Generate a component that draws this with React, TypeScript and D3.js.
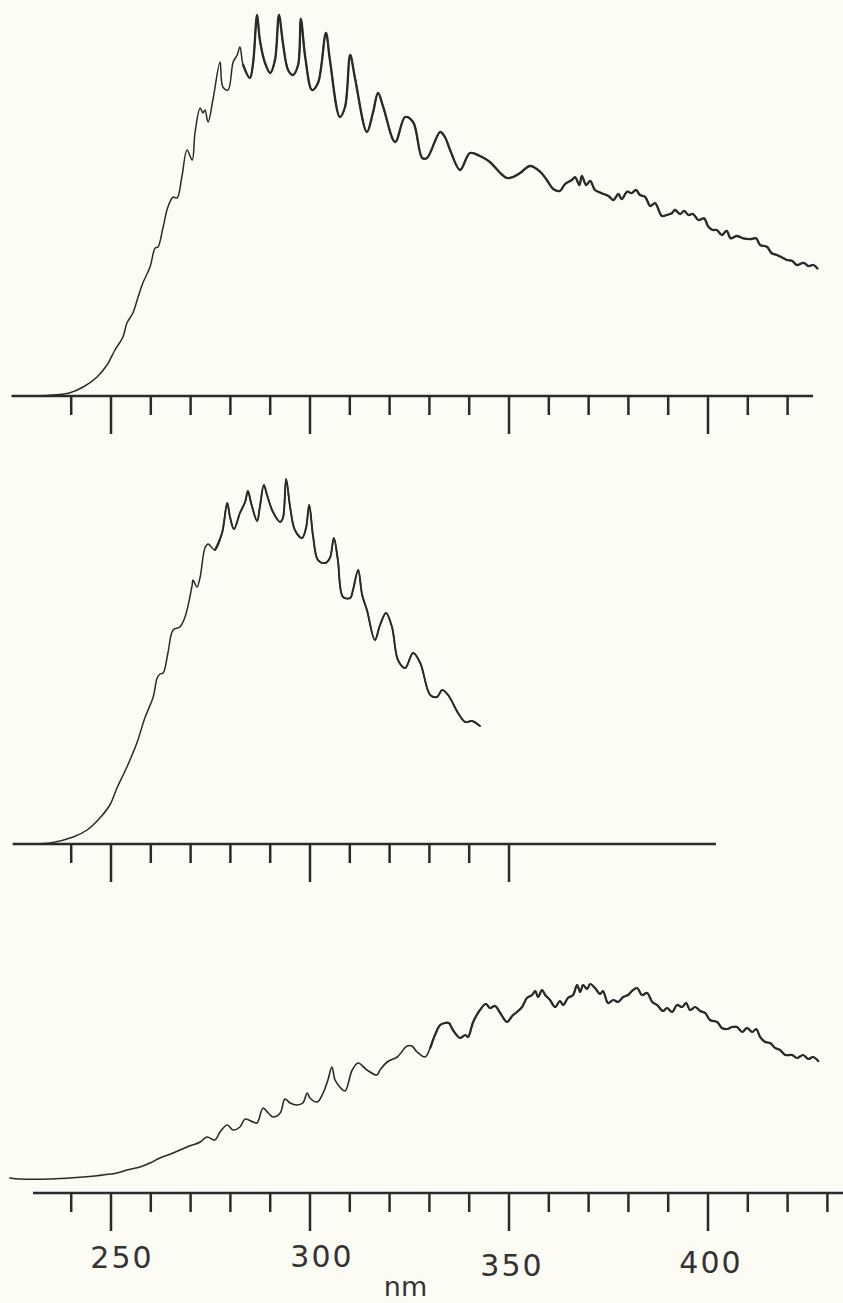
import React from 'react';
import * as d3 from 'd3';

const WIDTH = 843;
const HEIGHT = 1303;

// ---- Data (wavelength in nm, relative intensity) ----
// Top spectrum
const topNm = [
  225.1, 230.4, 236.4, 239.7, 243.0, 246.5, 249.0, 251.0, 253.0, 254.0,
  255.5, 256.8, 258.0, 259.8, 261.1, 261.8, 263.1, 264.3, 265.6, 266.6,
  267.8, 269.1, 270.4, 271.1, 272.4, 273.1, 273.6, 274.4, 275.6, 277.4,
  278.1, 279.4, 280.7, 281.7, 282.4, 283.2, 284.9, 285.7, 286.7, 287.4,
  288.7, 290.0, 291.2, 292.2, 293.2, 294.5, 295.7, 297.0, 297.7, 298.8,
  300.5, 302.0, 304.0, 305.0, 307.5, 308.8, 310.1, 311.3, 314.3, 315.8,
  317.1, 318.4, 321.4, 323.9, 325.9, 328.2, 329.4, 332.7, 333.9, 335.2,
  337.7, 340.2, 342.7, 345.2, 347.8, 349.5, 351.0, 352.8, 355.3,
  357.8, 359.5, 361.2, 362.8, 364.1, 365.8, 366.6, 367.7, 368.3, 369.4,
  370.4, 371.6, 373.3, 375.0, 376.2, 377.5, 378.3, 379.7, 380.8, 381.9,
  382.9, 384.2, 385.5, 386.7, 388.4, 389.6, 390.9, 391.7, 393.0, 394.0,
  395.1, 396.2, 397.6, 399.0, 400.1, 401.2, 402.2, 403.5, 404.7, 405.7,
  407.2, 408.9, 410.6, 412.1, 413.1, 414.8, 416.0, 417.3, 418.5, 419.8,
  421.1, 422.3, 424.0, 425.2, 426.5, 427.5,
];
const topIntensity = [
  0, 0, 0.3, 0.8, 2.25, 4.75, 7.75, 11.5, 14.75, 18.25,
  20.75, 24.75, 28.25, 32.25, 37, 37.25, 42.25, 47.25, 49.75, 49.5,
  54.75, 61.5, 59, 65.75, 72, 70.75, 71.5, 68.5, 74, 83.5,
  77.25, 76.5, 83.5, 85.25, 87.25, 82.75, 79.5, 83.25, 95.25, 89,
  83.25, 80.75, 84, 95.25, 88.25, 81.5, 80.25, 82.75, 94.25, 84.75,
  76.5, 78.25, 90.75, 84, 69.75, 72.25, 85.25, 79.5, 66, 70.75,
  75.75, 72.25, 63.5, 69.75, 68.5, 59.5, 59.5, 66, 64.75, 61.5,
  56.5, 60.75, 60, 58.5, 55.75, 54.5, 54.75, 55.75, 57.5,
  56.1, 54, 51.7, 51.3, 53, 54, 54.7, 52.75, 55, 52.75,
  53.8, 51.5, 50.7, 50, 49, 50.5, 49.2, 51.1, 50.7, 51.5,
  50.25, 49.8, 47.5, 48.2, 45, 45.25, 45.7, 46.5, 45.5, 46.3,
  45.25, 45.5, 44, 44.4, 42.3, 41.5, 41.5, 40.25, 41.3, 39.4,
  40, 39.4, 39.2, 39.4, 37.75, 37.3, 35.7, 35.25, 34.7, 34,
  33.8, 32.75, 33.3, 32.5, 32.75, 31.9,
];

// Middle spectrum
const midNm = [
  225.4, 230.4, 234.7, 240.5, 244.0, 247.2, 249.7, 251.5, 254.0, 256.5,
  258.5, 260.6, 261.6, 262.3, 263.1, 264.3, 265.6, 267.3, 268.6, 270.4,
  270.6, 271.6, 272.4, 273.6, 274.4, 276.1, 277.9, 279.2, 279.9, 280.9,
  282.4, 283.7, 284.4, 285.2, 286.7, 287.4, 288.4, 289.2, 290.7, 292.5,
  293.2, 294.0, 295.0, 296.2, 298.0, 299.0, 299.8, 300.8, 302.0, 303.8,
  305.0, 306.0, 307.0, 308.3, 310.1, 310.8, 312.1, 313.1, 314.3, 316.3,
  317.6, 319.1, 320.6, 322.1, 323.9, 325.9, 327.7, 330.2, 331.9, 333.2,
  334.7, 337.2, 339.0, 340.7, 342.7,
];
const midIntensity = [
  0, 0, 0.25, 1.75, 3.5, 6.5, 9.75, 14, 19.25, 25.25,
  31.5, 36.75, 41.5, 42.5, 42.75, 47.75, 53.5, 54.25, 56.75, 64.75,
  66, 64.25, 66.75, 74, 75, 73.5, 77.75, 85.25, 81.75, 78.75,
  82.75, 85.5, 88.25, 85.25, 80.75, 84.25, 89.75, 87.25, 83, 80.5,
  81.5, 91.25, 84.25, 78.5, 76.5, 79, 84.75, 76.75, 71, 70.25,
  71.5, 76.5, 71, 61.75, 61.5, 63.5, 68.5, 62.25, 58.5, 51,
  54.75, 57.75, 54.25, 46, 44, 47.75, 45.25, 37.25, 36.75, 38.5,
  37.25, 32.75, 30.5, 30.75, 29.5,
];

// Bottom spectrum
const botNm = [
  224.6, 227.1, 234.7, 243.0, 251.5, 254.0, 257.3, 259.8, 262.3, 265.6,
  269.1, 272.4, 274.1, 276.1, 277.4, 279.2, 280.7, 282.4, 283.7, 285.7,
  286.7, 288.2, 289.5, 290.7, 292.5, 293.7, 295.0, 296.7, 298.2, 299.3,
  300.0, 301.8, 303.3, 304.5, 305.5, 306.3, 307.5, 308.8, 310.6, 312.1,
  314.3, 316.8,
  317.6, 319.4, 321.9, 324.4, 325.6, 326.9, 328.9, 330.2, 331.4, 332.7,
  333.9, 334.9, 335.9, 337.7, 339.0, 339.7, 341.0, 342.7, 344.2, 345.2,
  346.5, 347.8, 349.5, 350.8, 352.0, 353.3, 354.5, 355.8, 356.6, 357.3,
  358.3, 359.1, 360.3, 361.6, 362.8, 363.6, 364.8, 366.1, 367.1, 367.9,
  368.6, 369.6, 370.4, 371.6, 372.9, 373.6, 374.9, 376.2, 377.4, 378.7,
  379.9, 380.9, 382.2, 383.4, 384.7, 386.0, 387.2, 388.7, 389.7, 391.0,
  392.2, 393.5, 394.5, 395.5, 396.8, 398.0, 399.3, 400.5, 402.3, 403.5,
  404.8, 406.1, 407.3, 408.6, 409.8, 411.1, 412.1, 413.1, 414.4, 415.6,
  416.9, 418.1, 419.4, 421.1, 422.4, 423.9, 425.2, 426.4, 427.7,
];
const botIntensity = [
  3.75, 3.5, 3.5, 4, 5, 5.75, 6.5, 7.5, 8.75, 10,
  11.5, 12.75, 14, 13.25, 15.25, 17, 15.75, 16.5, 18.5, 17.75,
  17.5, 21.25, 20, 19, 20, 23.5, 22.5, 22, 22.5, 25,
  23.75, 22.75, 25, 28.25, 31.5, 28.25, 26.5, 25.5, 30.75, 32.5,
  30.75, 29.5,
  30.75, 32.75, 34, 36.75, 36.75, 35.25, 34, 36.25, 39.5, 42,
  42.5, 42.5, 40.75, 38.75, 39.5, 39, 42.75, 45.75, 47.25, 46.25,
  46.75, 45, 42.75, 44.25, 45.25, 46.5, 48.75, 49.5, 50.5, 49,
  50.75, 49.5, 48.25, 46.5, 48, 47, 48.75, 49.5, 52, 50.25,
  52, 51, 52.25, 51.25, 49.75, 50.5, 47.5, 48.25, 47.75, 49,
  49.5, 50.5, 51.25, 49.5, 50, 47.75, 47, 45.5, 46.25, 45.25,
  47, 46.5, 47.5, 45.75, 46.5, 45.5, 45, 43.25, 42.75, 41.25,
  41, 41.5, 41.5, 40.25, 41.25, 40.25, 41, 39, 37.75, 37.5,
  36.25, 35.75, 34.5, 34.5, 33.75, 34.5, 33.5, 34, 33,
];

// Tick values (nm)
const topTicks = [240, 250, 260, 270, 280, 290, 300, 310, 320, 330, 340, 350, 360, 370, 380, 390, 400, 410, 420];
const midTicks = [240, 250, 260, 270, 280, 290, 300, 310, 320, 330, 340, 350];
const botTicks = [240, 250, 260, 270, 280, 290, 300, 310, 320, 330, 340, 350, 360, 370, 380, 390, 400, 410, 420, 430];
const tickLabels = [250, 300, 350, 400];
const axisTitle = 'nm';

// ---- Layout / style ----
const INK = '#2a2a2a';
const BG = '#fcfcf5';
const x = d3.scaleLinear().domain([250, 400]).range([111, 708]);
const MINOR = 19;
const MAJOR = 38;
const labelNudge: Record<number, [number, number]> = {
  250: [11, 75],
  300: [12, 74],
  350: [3, 83],
  400: [3, 80],
};

type PanelProps = {
  nm: number[];
  vals: number[];
  axisY: number;
  axisFrom: number;
  axisTo: number;
  ticks: number[];
  lineWidth: number;
  heavyFrom: number;
  heavyWidth: number;
};

function Panel({ nm, vals, axisY, axisFrom, axisTo, ticks, lineWidth, heavyFrom, heavyWidth }: PanelProps) {
  const y = d3.scaleLinear().domain([0, 100]).range([axisY, axisY - 400]);
  const n = Math.min(nm.length, vals.length);
  const pts: [number, number][] = [];
  for (let i = 0; i < n; i++) pts.push([nm[i], vals[i]]);
  const line = d3
    .line<[number, number]>()
    .x((d) => x(d[0]))
    .y((d) => y(d[1]))
    .curve(d3.curveCatmullRom.alpha(0.5));
  const heavy = pts.filter((p) => p[0] >= heavyFrom);
  return (
    <g>
      <path d={line(pts) || ''} fill="none" stroke={INK} strokeWidth={lineWidth} strokeLinejoin="round" strokeLinecap="round" />
      <path d={line(heavy) || ''} fill="none" stroke={INK} strokeWidth={heavyWidth} strokeLinejoin="round" strokeLinecap="round" />
      <line x1={x(axisFrom)} x2={x(axisTo)} y1={y(0)} y2={y(0)} stroke={INK} strokeWidth={2.3} />
      {ticks.map((t) => (
        <line
          key={t}
          x1={x(t)}
          x2={x(t)}
          y1={y(0)}
          y2={y(0) + (t % 50 === 0 ? MAJOR : MINOR)}
          stroke={INK}
          strokeWidth={2.5}
        />
      ))}
    </g>
  );
}

export default function App() {
  const botAxisY = 1193;
  return (
    <svg
      width={WIDTH}
      height={HEIGHT}
      viewBox={`0 0 ${WIDTH} ${HEIGHT}`}
      style={{ position: 'absolute', left: 0, top: 0, background: BG }}
    >
      <rect x={0} y={0} width={WIDTH} height={HEIGHT} fill={BG} />
      <Panel nm={topNm} vals={topIntensity} axisY={396} axisFrom={225.1} axisTo={426.4} ticks={topTicks} lineWidth={1.5} heavyFrom={283} heavyWidth={2.3} />
      <Panel nm={midNm} vals={midIntensity} axisY={844} axisFrom={225.4} axisTo={402.0} ticks={midTicks} lineWidth={1.5} heavyFrom={276} heavyWidth={1.9} />
      <Panel nm={botNm} vals={botIntensity} axisY={botAxisY} axisFrom={230.4} axisTo={436} ticks={botTicks} lineWidth={1.6} heavyFrom={330} heavyWidth={2.2} />
      {tickLabels.map((v) => (
        <text
          key={v}
          x={x(v) + labelNudge[v][0]}
          y={botAxisY + labelNudge[v][1]}
          textAnchor="middle"
          fontFamily="'DejaVu Sans', sans-serif"
          fontSize={30}
          letterSpacing={2}
          fill="#333"
        >
          {v}
        </text>
      ))}
      <text
        x={x(324)}
        y={1296}
        textAnchor="middle"
        fontFamily="'DejaVu Sans', sans-serif"
        fontSize={27}
        fill="#333"
      >
        {axisTitle}
      </text>
    </svg>
  );
}
